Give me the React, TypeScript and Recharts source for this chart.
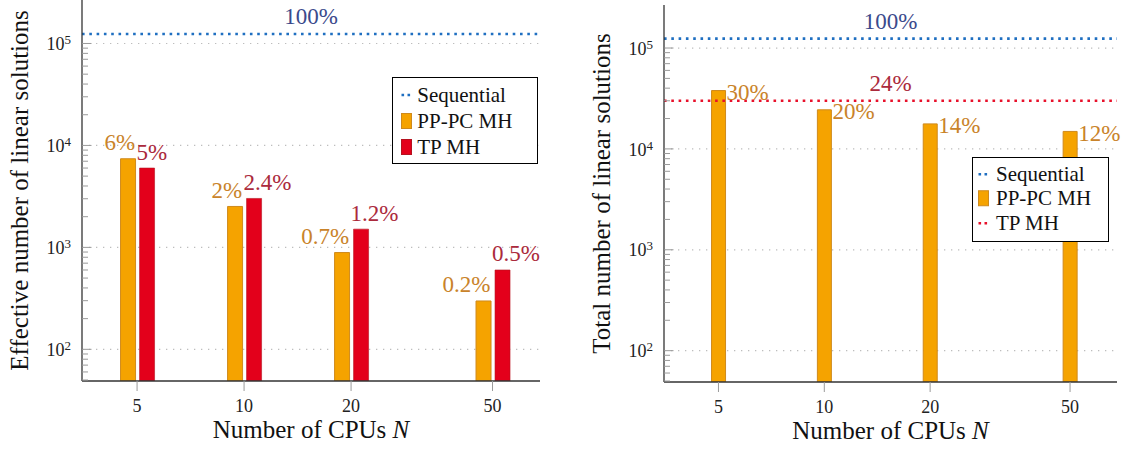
import React from 'react';
import { ComposedChart, Bar, XAxis, YAxis, ReferenceLine, CartesianGrid, Legend, LabelList } from 'recharts';

const FONT = 'Liberation Serif, "DejaVu Serif", serif';

// ---- data ----
const cpuCounts = [5, 10, 20, 50];
const sequentialSolutions = 124000;
const sequentialLabel = '100%';
const ppEffective = [7400, 2520, 890, 298];
const tpEffective = [6000, 3020, 1510, 600];
const ppEffectiveLabels = ['6%', '2%', '0.7%', '0.2%'];
const tpEffectiveLabels = ['5%', '2.4%', '1.2%', '0.5%'];
const ppTotal = [37900, 24400, 17700, 14900];
const ppTotalLabels = ['30%', '20%', '14%', '12%'];
const tpTotal = 30000;
const tpTotalLabel = '24%';
const majorYTicks = [100, 1000, 10000, 100000];
const minorYTicks = [
  50, 60, 70, 80, 90,
  200, 300, 400, 500, 600, 700, 800, 900,
  2000, 3000, 4000, 5000, 6000, 7000, 8000, 9000,
  20000, 30000, 40000, 50000, 60000, 70000, 80000, 90000,
];
const yDomain = [48.9, 267000];
const xDomain = [3.5, 68];

const leftData = cpuCounts.map((n, i) => ({
  n,
  pp: ppEffective[i],
  tp: tpEffective[i],
  ppLabel: ppEffectiveLabels[i],
  tpLabel: tpEffectiveLabels[i],
}));
const rightData = cpuCounts.map((n, i) => ({ n, pp: ppTotal[i], ppLabel: ppTotalLabels[i] }));
const allYTicks = [...minorYTicks, ...majorYTicks].sort((a, b) => a - b);

const C = {
  pp: '#f5a300',
  ppStroke: '#cf8a1c',
  tp: '#e3001b',
  tpStroke: '#b5121f',
  seq: '#1f6fc1',
  tpLine: '#e8102a',
  ppText: '#c9832a',
  tpText: '#ab2a3c',
  seqText: '#3b4a8c',
  grid: '#bdbdbd',
  axis: '#333',
  tick: '#9a9a9a',
};

const YTick = (props: any) => {
  const { x, y, payload } = props;
  const v = payload.value;
  const major = majorYTicks.includes(v);
  const exp = Math.round(Math.log10(v));
  return (
    <g>
      <line x1={x} x2={x + (major ? 9.5 : 6)} y1={y} y2={y} stroke={C.tick} strokeWidth={1} />
      {major && (
        <text x={x - 11} y={y + 6.7} textAnchor="end" style={{ fontFamily: FONT }} fontSize={18} fill="#222">
          10<tspan dy={-6} fontSize={13}>{exp}</tspan>
        </text>
      )}
    </g>
  );
};

const XTick = (props: any) => {
  const { x, y, payload } = props;
  return (
    <text x={x} y={y + 20.5} textAnchor="middle" style={{ fontFamily: FONT }} fontSize={18} fill="#222">
      {payload.value}
    </text>
  );
};

const ppLeftLabel = (p: any) => (
  <text x={Number(p.x) + Number(p.width) - 0.5} y={Number(p.y) - 8.5} textAnchor="end" fill={C.ppText} fontSize={23} style={{ fontFamily: FONT }}>
    {p.value}
  </text>
);
const tpLeftLabel = (p: any) => (
  <text x={Number(p.x) - 3} y={Number(p.y) - 8.5} textAnchor="start" fill={C.tpText} fontSize={23} style={{ fontFamily: FONT }}>
    {p.value}
  </text>
);
const ppRightLabel = (p: any) => (
  <text x={Number(p.x) + Number(p.width) + 1} y={Number(p.y) + 9.5} textAnchor="start" fill={C.ppText} fontSize={23} style={{ fontFamily: FONT }}>
    {p.value}
  </text>
);

const refLabel = (text: string, color: string) => (p: any) => {
  const vb = p.viewBox || {};
  return (
    <text x={vb.x + vb.width / 2} y={vb.y - 10} textAnchor="middle" fill={color} fontSize={23} style={{ fontFamily: FONT }}>
      {text}
    </text>
  );
};

const yTitle = (text: string) => (p: any) => {
  const vb = p.viewBox || {};
  const bx = vb.x + vb.width - 54;
  const cy = vb.y + vb.height / 2;
  return (
    <text x={bx} y={cy} transform={`rotate(-90 ${bx} ${cy})`} textAnchor="middle" fill="#111" fontSize={25} style={{ fontFamily: FONT }}>
      {text}
    </text>
  );
};

const xTitle = (p: any) => {
  const vb = p.viewBox || {};
  return (
    <text x={vb.x + vb.width / 2} y={vb.y + 57} textAnchor="middle" fill="#111" fontSize={25} style={{ fontFamily: FONT }}>
      Number of CPUs <tspan fontStyle="italic">N</tspan>
    </text>
  );
};

type Item = { label: string; kind: 'dots' | 'box'; color: string; stroke?: string };

const LegendBox = ({ items, rowHeight, padTop, markerLeft, textLeft }: { items: Item[]; rowHeight: number; padTop: number; markerLeft: number; textLeft: number }) => (
  <div
    style={{
      width: '100%',
      height: '100%',
      boxSizing: 'border-box',
      border: '1px solid #000',
      background: '#fff',
      position: 'relative',
      fontFamily: FONT,
    }}
  >
    {items.map((it, i) => (
      <div key={i} style={{ position: 'absolute', left: 0, top: padTop + i * rowHeight, height: rowHeight, width: '100%' }}>
        <svg style={{ position: 'absolute', left: markerLeft, top: 0 }} width={14} height={rowHeight}>
          {it.kind === 'dots' ? (
            <line x1={0.5} x2={9.2} y1={rowHeight / 2} y2={rowHeight / 2} stroke={it.color} strokeWidth={2.6} strokeDasharray="2.6 3.4" />
          ) : (
            <rect x={0.5} y={rowHeight / 2 - 7.5} width={10} height={15} fill={it.color} stroke={it.stroke} strokeWidth={1} />
          )}
        </svg>
        <span
          style={{
            position: 'absolute',
            left: textLeft,
            top: 0,
            lineHeight: rowHeight + 'px',
            fontSize: 21,
            color: '#111',
            whiteSpace: 'nowrap',
            fontFamily: FONT,
          }}
        >
          {it.label}
        </span>
      </div>
    ))}
  </div>
);

const leftItems: Item[] = [
  { label: 'Sequential', kind: 'dots', color: C.seq },
  { label: 'PP-PC MH', kind: 'box', color: C.pp, stroke: C.ppStroke },
  { label: 'TP MH', kind: 'box', color: C.tp, stroke: C.tpStroke },
];
const rightItems: Item[] = [
  { label: 'Sequential', kind: 'dots', color: C.seq },
  { label: 'PP-PC MH', kind: 'box', color: C.pp, stroke: C.ppStroke },
  { label: 'TP MH', kind: 'dots', color: C.tpLine },
];

const commonY = (title: string) => (
  <YAxis
    type="number"
    scale="log"
    domain={yDomain}
    allowDataOverflow
    ticks={allYTicks}
    interval={0}
    tick={<YTick />}
    tickLine={false}
    tickSize={0}
    tickMargin={0}
    width={60}
    axisLine={{ stroke: C.axis, strokeWidth: 1.3 }}
    label={{ content: yTitle(title) }}
  />
);

const commonX = (
  <XAxis
    dataKey="n"
    type="number"
    scale="log"
    domain={xDomain}
    allowDataOverflow
    ticks={cpuCounts}
    interval={0}
    tick={<XTick />}
    tickLine={{ stroke: C.tick, strokeWidth: 1 }}
    tickSize={10}
    tickMargin={0}
    height={50}
    axisLine={{ stroke: C.axis, strokeWidth: 1.3 }}
    label={{ content: xTitle }}
  />
);

export default function App() {
  return (
    <div style={{ position: 'absolute', left: 0, top: 0, width: 1124, height: 450, background: '#fff', fontFamily: FONT }}>
      <div style={{ position: 'absolute', left: 0, top: 0 }}>
        <ComposedChart width={560} height={450} data={leftData} margin={{ top: 0, right: 20, bottom: 19, left: 22 }} barGap={4}>
          <CartesianGrid vertical={false} horizontalValues={majorYTicks} stroke={C.grid} strokeDasharray="1.3 5.7" strokeWidth={1.2} />
          {commonX}
          {commonY('Effective number of linear solutions')}
          <Bar dataKey="pp" fill={C.pp} stroke={C.ppStroke} strokeWidth={1} barSize={15} isAnimationActive={false}>
            <LabelList dataKey="ppLabel" content={ppLeftLabel} />
          </Bar>
          <Bar dataKey="tp" fill={C.tp} stroke={C.tpStroke} strokeWidth={0.6} barSize={15} isAnimationActive={false}>
            <LabelList dataKey="tpLabel" content={tpLeftLabel} />
          </Bar>
          <ReferenceLine
            y={sequentialSolutions}
            stroke={C.seq}
            strokeWidth={2.6}
            strokeDasharray="2.6 4.7"
            label={{ content: refLabel(sequentialLabel, C.seqText) }}
          />
          <Legend
            layout="vertical"
            align="center"
            verticalAlign="middle"
            wrapperStyle={{ left: 392, top: 77, width: 146, height: 87 }}
            content={() => <LegendBox items={leftItems} rowHeight={26} padTop={4} markerLeft={7.7} textLeft={24.3} />}
          />
        </ComposedChart>
      </div>
      <div style={{ position: 'absolute', left: 560, top: 0 }}>
        <ComposedChart width={564} height={450} data={rightData} margin={{ top: 5, right: 7, bottom: 18, left: 44 }}>
          <CartesianGrid vertical={false} horizontalValues={majorYTicks} stroke={C.grid} strokeDasharray="1.3 5.7" strokeWidth={1.2} />
          {commonX}
          {commonY('Total number of linear solutions')}
          <Bar dataKey="pp" fill={C.pp} stroke={C.ppStroke} strokeWidth={1} barSize={14} isAnimationActive={false}>
            <LabelList dataKey="ppLabel" content={ppRightLabel} />
          </Bar>
          <ReferenceLine
            y={sequentialSolutions}
            stroke={C.seq}
            strokeWidth={2.6}
            strokeDasharray="2.6 4.7"
            label={{ content: refLabel(sequentialLabel, C.seqText) }}
          />
          <ReferenceLine
            y={tpTotal}
            stroke={C.tpLine}
            strokeWidth={2.6}
            strokeDasharray="2.6 4.7"
            label={{ content: refLabel(tpTotalLabel, C.tpText) }}
          />
          <Legend
            layout="vertical"
            align="center"
            verticalAlign="middle"
            wrapperStyle={{ left: 412, top: 157, width: 137, height: 85 }}
            content={() => <LegendBox items={rightItems} rowHeight={24.5} padTop={3.75} markerLeft={5.3} textLeft={23} />}
          />
        </ComposedChart>
      </div>
    </div>
  );
}
